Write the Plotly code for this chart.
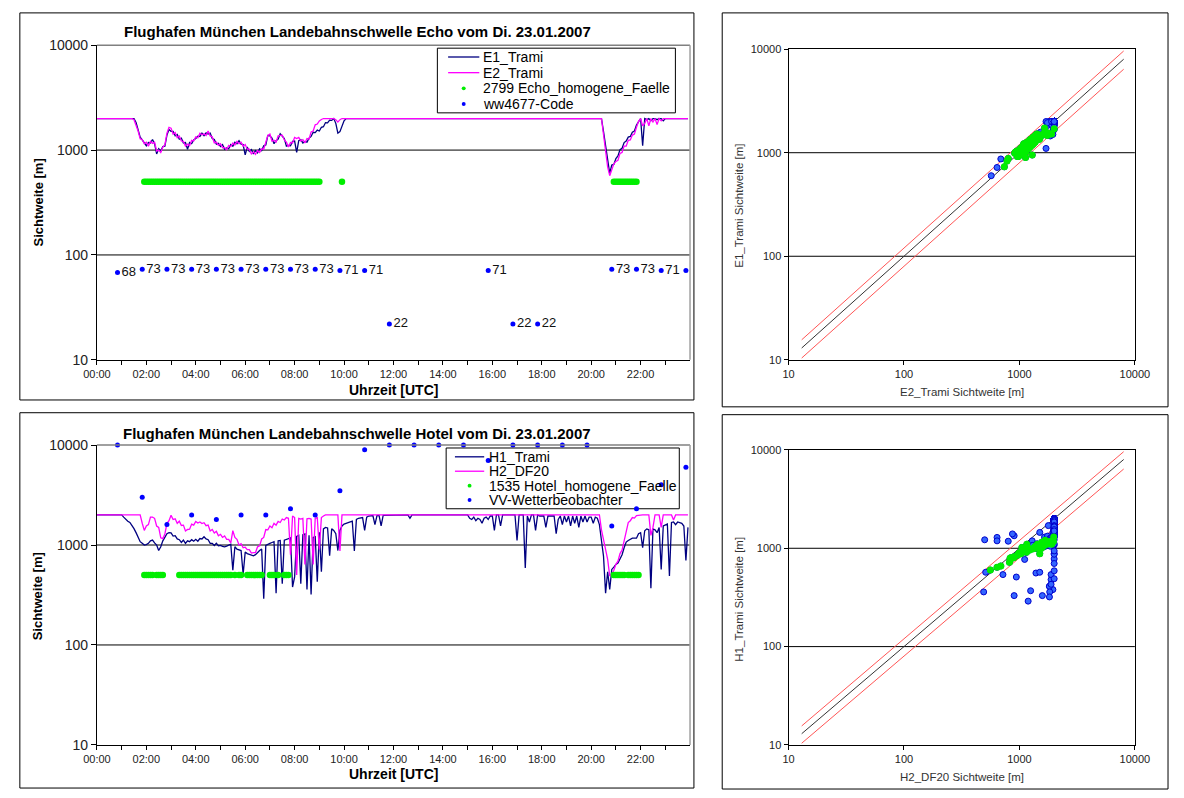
import plotly.graph_objects as go

W, H = 1184, 798
FONT = "Liberation Sans, Arial, sans-serif"

# ---------------- data ----------------
# sampling grid of the time series: one value every 5 minutes, 00:00 .. 23:55
sample_minutes = list(range(0, 1440, 5))

# Echo threshold, 12 values per line = one hour
echo_e1 = [
    2000, 2000, 2000, 2000, 2000, 2000, 2000, 2000, 2000, 2000, 2000, 2000,  # 00
    2000, 2000, 2000, 2000, 2000, 2000, 2000, 1830, 1580, 1330, 1250, 1170,  # 01
    1100, 1180, 1170, 1260, 1150, 920, 1030, 980, 1080, 1090, 1390, 1570,    # 02
    1510, 1510, 1370, 1410, 1270, 1300, 1170, 1180, 1020, 1180, 1150, 1250,  # 03
    1290, 1360, 1350, 1450, 1370, 1460, 1420, 1450, 1290, 1260, 1140, 1160,  # 04
    1080, 1130, 1020, 1050, 1030, 1130, 1090, 1190, 1150, 1230, 1140, 1130,  # 05
    900, 1070, 970, 1010, 920, 990, 940, 1030, 990, 1100, 1120, 1380,        # 06
    1370, 1300, 1150, 1230, 1270, 1430, 1340, 1290, 1090, 1110, 1100, 1210,  # 07
    1220, 950, 1230, 1260, 1170, 1210, 1190, 1300, 1350, 1480, 1470, 1550,   # 08
    1520, 1650, 1670, 1830, 1820, 1930, 1920, 2000, 1800, 1450, 1500, 1700,  # 09
    1900, 2000, 2000, 2000, 2000, 2000, 2000, 2000, 2000, 2000, 2000, 2000,  # 10
    2000, 2000, 2000, 2000, 2000, 2000, 2000, 2000, 2000, 2000, 2000, 2000,  # 11
    2000, 2000, 2000, 2000, 2000, 2000, 2000, 2000, 2000, 2000, 2000, 2000,  # 12
    2000, 2000, 2000, 2000, 2000, 2000, 2000, 2000, 2000, 2000, 2000, 2000,  # 13
    2000, 2000, 2000, 2000, 2000, 2000, 2000, 2000, 2000, 2000, 2000, 2000,  # 14
    2000, 2000, 2000, 2000, 2000, 2000, 2000, 2000, 2000, 2000, 2000, 2000,  # 15
    2000, 2000, 2000, 2000, 2000, 2000, 2000, 2000, 2000, 2000, 2000, 2000,  # 16
    2000, 2000, 2000, 2000, 2000, 2000, 2000, 2000, 2000, 2000, 2000, 2000,  # 17
    2000, 2000, 2000, 2000, 2000, 2000, 2000, 2000, 2000, 2000, 2000, 2000,  # 18
    2000, 2000, 2000, 2000, 2000, 2000, 2000, 2000, 2000, 2000, 2000, 2000,  # 19
    2000, 2000, 2000, 2000, 2000, 2000, 1500, 1080, 870, 600, 720, 730,      # 20
    830, 880, 1010, 1040, 1180, 1220, 1330, 1350, 1480, 1520, 1730, 1880,    # 21
    2000, 1100, 2000, 1950, 2000, 1900, 2000, 2000, 1950, 2000, 2000, 1900,  # 22
    2000, 2000, 2000, 2000, 2000, 2000, 2000, 2000, 2000, 2000, 2000, 2000,  # 23
]
echo_e2 = [
    2000, 2000, 2000, 2000, 2000, 2000, 2000, 2000, 2000, 2000, 2000, 2000,  # 00
    2000, 2000, 2000, 2000, 2000, 2000, 1950, 1750, 1520, 1280, 1260, 1150,  # 01
    1190, 1090, 1210, 1160, 1190, 980, 1000, 950, 1070, 1120, 1450, 1650,    # 02
    1620, 1420, 1470, 1310, 1360, 1220, 1210, 1090, 1140, 1100, 1240, 1220,  # 03
    1340, 1310, 1450, 1400, 1430, 1380, 1520, 1360, 1340, 1170, 1190, 1110,  # 04
    1150, 1050, 1060, 1010, 1110, 1080, 1170, 1120, 1210, 1150, 1190, 1090,  # 05
    1130, 1020, 1020, 920, 960, 910, 990, 950, 1030, 1020, 1220, 1380,       # 06
    1420, 1220, 1240, 1190, 1370, 1390, 1390, 1250, 1190, 1070, 1180, 1170,  # 07
    1320, 1290, 1320, 1220, 1260, 1170, 1290, 1270, 1490, 1520, 1740, 1770,  # 08
    1900, 1960, 2000, 2000, 2000, 2000, 2000, 2000, 1950, 1850, 1950, 2000,  # 09
    2000, 2000, 2000, 2000, 2000, 2000, 2000, 2000, 2000, 2000, 2000, 2000,  # 10
    2000, 2000, 2000, 2000, 2000, 2000, 2000, 2000, 2000, 2000, 2000, 2000,  # 11
    2000, 2000, 2000, 2000, 2000, 2000, 2000, 2000, 2000, 2000, 2000, 2000,  # 12
    2000, 2000, 2000, 2000, 2000, 2000, 2000, 2000, 2000, 2000, 2000, 2000,  # 13
    2000, 2000, 2000, 2000, 2000, 2000, 2000, 2000, 2000, 2000, 2000, 2000,  # 14
    2000, 2000, 2000, 2000, 2000, 2000, 2000, 2000, 2000, 2000, 2000, 2000,  # 15
    2000, 2000, 2000, 2000, 2000, 2000, 2000, 2000, 2000, 2000, 2000, 2000,  # 16
    2000, 2000, 2000, 2000, 2000, 2000, 2000, 2000, 2000, 2000, 2000, 2000,  # 17
    2000, 2000, 2000, 2000, 2000, 2000, 2000, 2000, 2000, 2000, 2000, 2000,  # 18
    2000, 2000, 2000, 2000, 2000, 2000, 2000, 2000, 2000, 2000, 2000, 2000,  # 19
    2000, 2000, 2000, 2000, 2000, 2000, 1400, 1030, 690, 570, 640, 740,      # 20
    780, 800, 930, 950, 1090, 1090, 1240, 1250, 1390, 1420, 1650, 1880,      # 21
    2000, 1700, 1800, 2000, 1700, 2000, 1850, 2000, 1750, 2000, 1900, 2000,  # 22
    2000, 2000, 2000, 2000, 2000, 2000, 2000, 2000, 2000, 2000, 2000, 2000,  # 23
]
# 1 = homogeneous case at that sample
echo_homog = [
    0, 0, 0, 0, 0, 0, 0, 0, 0, 0, 0, 0,  # 00
    0, 0, 0, 0, 0, 0, 0, 0, 0, 0, 0, 1,  # 01
    1, 1, 1, 1, 1, 1, 1, 1, 1, 1, 1, 1,  # 02
    1, 1, 1, 1, 1, 1, 1, 1, 1, 1, 1, 1,  # 03
    1, 1, 1, 1, 1, 1, 1, 1, 1, 1, 1, 1,  # 04
    1, 1, 1, 1, 1, 1, 1, 1, 1, 1, 1, 1,  # 05
    1, 1, 1, 1, 1, 1, 1, 1, 1, 1, 1, 1,  # 06
    1, 1, 1, 1, 1, 1, 1, 1, 1, 1, 1, 1,  # 07
    1, 1, 1, 1, 1, 1, 1, 1, 1, 1, 1, 1,  # 08
    1, 0, 0, 0, 0, 0, 0, 0, 0, 0, 0, 1,  # 09
    0, 0, 0, 0, 0, 0, 0, 0, 0, 0, 0, 0,  # 10
    0, 0, 0, 0, 0, 0, 0, 0, 0, 0, 0, 0,  # 11
    0, 0, 0, 0, 0, 0, 0, 0, 0, 0, 0, 0,  # 12
    0, 0, 0, 0, 0, 0, 0, 0, 0, 0, 0, 0,  # 13
    0, 0, 0, 0, 0, 0, 0, 0, 0, 0, 0, 0,  # 14
    0, 0, 0, 0, 0, 0, 0, 0, 0, 0, 0, 0,  # 15
    0, 0, 0, 0, 0, 0, 0, 0, 0, 0, 0, 0,  # 16
    0, 0, 0, 0, 0, 0, 0, 0, 0, 0, 0, 0,  # 17
    0, 0, 0, 0, 0, 0, 0, 0, 0, 0, 0, 0,  # 18
    0, 0, 0, 0, 0, 0, 0, 0, 0, 0, 0, 0,  # 19
    0, 0, 0, 0, 0, 0, 0, 0, 0, 0, 0, 1,  # 20
    1, 1, 1, 1, 1, 1, 1, 1, 1, 1, 1, 0,  # 21
    0, 0, 0, 0, 0, 0, 0, 0, 0, 0, 0, 0,  # 22
    0, 0, 0, 0, 0, 0, 0, 0, 0, 0, 0, 0,  # 23
]
# ww4677 present-weather code reports (minute of day, code)
ww_minutes = [50, 110, 170, 230, 290, 350, 410, 470, 530, 590, 650, 710,
              950, 1010, 1070, 1250, 1310, 1370, 1430]
ww_codes = [68, 73, 73, 73, 73, 73, 73, 73, 73, 71, 71, 22,
            71, 22, 22, 73, 73, 71, 71]

# Hotel threshold
hotel_h1 = [
    2000, 2000, 2000, 2000, 2000, 2000, 2000, 2000, 2000, 2000, 2000, 2000,  # 00
    2000, 1900, 1800, 1730, 1680, 1570, 1460, 1330, 1220, 1080, 1040, 1000,  # 01
    1010, 1040, 1100, 1120, 1050, 1000, 880, 960, 1100, 1190, 1300, 1330,    # 02
    1320, 1230, 1240, 1150, 1130, 1060, 1120, 1040, 1100, 1080, 1130, 1090,  # 03
    1140, 1090, 1160, 1150, 1210, 1150, 1130, 1040, 1040, 990, 1040, 980,    # 04
    990, 970, 960, 975, 1000, 1020, 560, 960, 910, 900, 880, 510,            # 05
    850, 820, 810, 790, 780, 800, 850, 880, 910, 290, 990, 1020,             # 06
    1040, 1060, 1080, 330, 1100, 1110, 410, 1120, 1140, 1170, 1180, 380,     # 07
    480, 1220, 1250, 410, 1270, 1290, 360, 1250, 320, 1190, 1210, 430,       # 08
    1340, 540, 1450, 1500, 1480, 780, 1450, 1400, 1300, 880, 1400, 1550,     # 09
    1620, 1650, 1680, 1700, 1730, 870, 1800, 1850, 1880, 1880, 1400, 1900,   # 10
    1950, 1950, 1970, 1600, 1970, 1980, 1550, 1980, 1980, 1980, 1980, 1980,  # 11
    2000, 2000, 2000, 2000, 2000, 2000, 2000, 2000, 1850, 2000, 2000, 2000,  # 12
    2000, 2000, 2000, 2000, 2000, 2000, 2000, 2000, 2000, 2000, 2000, 2000,  # 13
    2000, 2000, 2000, 2000, 2000, 2000, 2000, 2000, 2000, 2000, 2000, 2000,  # 14
    2000, 1850, 1800, 1900, 1750, 1850, 1800, 1650, 1850, 1900, 1800, 1950,  # 15
    1950, 1400, 2000, 2000, 1550, 2000, 2000, 2000, 2000, 2000, 2000, 2000,  # 16
    1110, 2000, 2000, 2000, 590, 1950, 1700, 2000, 2000, 1400, 2000, 1950,   # 17
    1950, 1950, 1500, 1950, 1950, 1950, 1950, 1300, 1800, 1950, 1600, 1950,  # 18
    1700, 1950, 1550, 1950, 1650, 1950, 1500, 1950, 1700, 1950, 1700, 1900,  # 19
    1900, 1650, 1900, 1850, 1600, 1110, 770, 330, 540, 360, 570, 600,        # 20
    640, 660, 720, 800, 940, 1070, 1110, 1140, 1170, 1170, 1170, 1300,       # 21
    1330, 940, 1390, 1450, 1420, 370, 1450, 1420, 1330, 1500, 570, 1550,     # 22
    1600, 1620, 490, 1680, 1700, 1600, 1700, 1680, 1650, 1550, 700, 1500,    # 23
]
hotel_h2 = [
    2000, 2000, 2000, 2000, 2000, 2000, 2000, 2000, 2000, 2000, 2000, 2000,  # 00
    2000, 2000, 2000, 2000, 2000, 2000, 2000, 2000, 2000, 2000, 1650, 1400,  # 01
    1550, 1600, 1900, 1900, 1850, 1550, 1500, 1180, 1160, 1290, 1650, 1750,  # 02
    1980, 1800, 1830, 1650, 1730, 1570, 1580, 1380, 1430, 1440, 1620, 1580,  # 03
    1720, 1660, 1700, 1640, 1670, 1560, 1580, 1380, 1430, 1320, 1370, 1240,  # 04
    1280, 1190, 1230, 1140, 1140, 1050, 1390, 1190, 1140, 1000, 1030, 940,   # 05
    950, 900, 900, 830, 840, 840, 960, 980, 1150, 1190, 1430, 1420,          # 06
    1550, 1490, 1650, 1580, 1720, 1680, 1820, 1780, 1880, 1850, 800, 1950,   # 07
    1880, 500, 1850, 1820, 1850, 640, 1830, 1850, 1820, 640, 1850, 1880,     # 08
    900, 1880, 1950, 2000, 2000, 2000, 2000, 2000, 2000, 2000, 870, 2000,    # 09
    2000, 2000, 2000, 2000, 2000, 2000, 2000, 2000, 2000, 2000, 2000, 2000,  # 10
    2000, 2000, 2000, 2000, 2000, 2000, 2000, 2000, 2000, 2000, 2000, 2000,  # 11
    2000, 2000, 2000, 2000, 2000, 2000, 2000, 2000, 2000, 2000, 2000, 2000,  # 12
    2000, 2000, 2000, 2000, 2000, 2000, 2000, 2000, 2000, 2000, 2000, 2000,  # 13
    2000, 2000, 2000, 2000, 2000, 2000, 2000, 2000, 2000, 2000, 2000, 2000,  # 14
    2000, 2000, 2000, 2000, 2000, 2000, 2000, 2000, 2000, 2000, 2000, 2000,  # 15
    2000, 2000, 2000, 2000, 2000, 2000, 2000, 2000, 2000, 2000, 2000, 2000,  # 16
    2000, 2000, 2000, 2000, 2000, 2000, 2000, 2000, 2000, 2000, 2000, 2000,  # 17
    2000, 2000, 2000, 2000, 2000, 2000, 2000, 2000, 2000, 2000, 2000, 2000,  # 18
    2000, 2000, 2000, 2000, 2000, 2000, 2000, 2000, 2000, 2000, 2000, 2000,  # 19
    2000, 2000, 2000, 2000, 2000, 1420, 1110, 900, 720, 490, 510, 560,       # 20
    640, 690, 820, 890, 1100, 1300, 1680, 1750, 1880, 1860, 1970, 1980,      # 21
    2000, 2000, 2000, 2000, 2000, 1250, 1500, 2000, 2000, 2000, 1500, 2000,  # 22
    2000, 2000, 2000, 2000, 1780, 2000, 2000, 2000, 2000, 2000, 2000, 2000,  # 23
]
hotel_homog = [
    0, 0, 0, 0, 0, 0, 0, 0, 0, 0, 0, 0,  # 00
    0, 0, 0, 0, 0, 0, 0, 0, 0, 0, 0, 1,  # 01
    1, 1, 1, 1, 0, 1, 1, 1, 1, 0, 0, 0,  # 02
    0, 0, 0, 0, 1, 1, 1, 1, 1, 1, 1, 1,  # 03
    1, 1, 1, 1, 1, 1, 1, 1, 1, 1, 1, 1,  # 04
    1, 1, 1, 1, 1, 1, 0, 1, 0, 1, 1, 0,  # 05
    0, 1, 1, 1, 1, 1, 1, 1, 1, 0, 0, 0,  # 06
    1, 1, 1, 0, 1, 0, 0, 1, 1, 1, 0, 0,  # 07
    0, 0, 0, 0, 0, 0, 0, 0, 0, 0, 0, 0,  # 08
    0, 0, 0, 0, 0, 0, 0, 0, 0, 0, 0, 0,  # 09
    0, 0, 0, 0, 0, 0, 0, 0, 0, 0, 0, 0,  # 10
    0, 0, 0, 0, 0, 0, 0, 0, 0, 0, 0, 0,  # 11
    0, 0, 0, 0, 0, 0, 0, 0, 0, 0, 0, 0,  # 12
    0, 0, 0, 0, 0, 0, 0, 0, 0, 0, 0, 0,  # 13
    0, 0, 0, 0, 0, 0, 0, 0, 0, 0, 0, 0,  # 14
    0, 0, 0, 0, 0, 0, 0, 0, 0, 0, 0, 0,  # 15
    0, 0, 0, 0, 0, 0, 0, 0, 0, 0, 0, 0,  # 16
    0, 0, 0, 0, 0, 0, 0, 0, 0, 0, 0, 0,  # 17
    0, 0, 0, 0, 0, 0, 0, 0, 0, 0, 0, 0,  # 18
    0, 0, 0, 0, 0, 0, 0, 0, 0, 0, 0, 0,  # 19
    0, 0, 0, 0, 0, 0, 0, 0, 0, 0, 0, 1,  # 20
    1, 1, 1, 1, 1, 0, 1, 1, 1, 1, 1, 1,  # 21
    0, 0, 0, 0, 0, 0, 0, 0, 0, 0, 0, 0,  # 22
    0, 0, 0, 0, 0, 0, 0, 0, 0, 0, 0, 0,  # 23
]
# visibility reported by the weather observer (minute of day, metres)
vv_minutes = [50, 110, 170, 230, 290, 350, 410, 470, 530, 590, 650, 710,
              770, 830, 890, 950, 1010, 1070, 1130, 1190, 1250, 1310, 1370, 1430]
vv_values = [10000, 3000, 1600, 2000, 1800, 2000, 2000, 2300, 2000, 3500, 9000, 10000,
             10000, 10000, 10000, 7000, 10000, 10000, 10000, 10000, 1550, 2300, 4000, 6000]

# scatter reference lines: 1:1 and +-20 %
ref_x = [13, 8000]
ref_factors = [1.2, 1.0, 0.8]
ref_colors = ["#ff5555", "#333333", "#ff5555"]

time_tick_minutes = [0, 60, 120, 180, 240, 300, 360, 420, 480, 540, 600, 660,
                     720, 780, 840, 900, 960, 1020, 1080, 1140, 1200, 1260, 1320, 1380]
time_tick_labels = ["00:00", "", "02:00", "", "04:00", "", "06:00", "", "08:00", "",
                    "10:00", "", "12:00", "", "14:00", "", "16:00", "", "18:00", "",
                    "20:00", "", "22:00", ""]
log_ticks = [10, 100, 1000, 10000]
log_tick_labels = ["10", "100", "1000", "10000"]

homog_level = 500  # vertical position of the homogeneous-case markers

# ---------------- helpers ----------------
def pxx(p):
    return p / W


def pxy(p):
    return 1 - p / H


NAVY = "#000080"
MAGENTA = "#ff00ff"
GREEN = "#00ee00"
BLUE = "#0000ff"

fig = go.Figure()

# ---------- panel 1: Echo time series ----------
fig.add_trace(go.Scatter(x=sample_minutes, y=echo_e1, mode="lines", name="E1_Trami",
                         line=dict(color=NAVY, width=1.3), xaxis="x", yaxis="y"))
fig.add_trace(go.Scatter(x=sample_minutes, y=echo_e2, mode="lines", name="E2_Trami",
                         line=dict(color=MAGENTA, width=1.3), xaxis="x", yaxis="y"))
eh_t = [t for t, f in zip(sample_minutes, echo_homog) if f]
fig.add_trace(go.Scatter(x=eh_t, y=[homog_level] * len(eh_t), mode="markers",
                         name="2799 Echo_homogene_Faelle",
                         marker=dict(color=GREEN, size=6.5), xaxis="x", yaxis="y"))
fig.add_trace(go.Scatter(x=ww_minutes, y=ww_codes, mode="markers+text", name="ww4677-Code",
                         text=[str(c) for c in ww_codes], textposition="middle right",
                         textfont=dict(family=FONT, size=13, color="#111"),
                         marker=dict(color=BLUE, size=5), xaxis="x", yaxis="y"))

# ---------- panel 3: Hotel time series ----------
fig.add_trace(go.Scatter(x=sample_minutes, y=hotel_h1, mode="lines", name="H1_Trami",
                         line=dict(color=NAVY, width=1.3), xaxis="x3", yaxis="y3"))
fig.add_trace(go.Scatter(x=sample_minutes, y=hotel_h2, mode="lines", name="H2_DF20",
                         line=dict(color=MAGENTA, width=1.3), xaxis="x3", yaxis="y3"))
hh_t = [t for t, f in zip(sample_minutes, hotel_homog) if f]
fig.add_trace(go.Scatter(x=hh_t, y=[homog_level] * len(hh_t), mode="markers",
                         name="1535 Hotel_homogene_Faelle",
                         marker=dict(color=GREEN, size=6.5), xaxis="x3", yaxis="y3"))
fig.add_trace(go.Scatter(x=vv_minutes, y=vv_values, mode="markers", name="VV-Wetterbeobachter",
                         marker=dict(color=BLUE, size=5), cliponaxis=False,
                         xaxis="x3", yaxis="y3"))

# ---------- scatter panels ----------
def add_scatter(xs, ys, flags, xa, ya):
    for fct, col in zip(ref_factors, ref_colors):
        fig.add_trace(go.Scatter(x=ref_x, y=[v * fct for v in ref_x], mode="lines",
                                 line=dict(color=col, width=1), xaxis=xa, yaxis=ya,
                                 hoverinfo="skip"))
    fig.add_trace(go.Scatter(x=xs, y=ys, mode="markers",
                             marker=dict(color="#3366ff", size=6, line=dict(color="#0000cc", width=1)),
                             xaxis=xa, yaxis=ya))
    gx = [a for a, f in zip(xs, flags) if f]
    gy = [b for b, f in zip(ys, flags) if f]
    fig.add_trace(go.Scatter(x=gx, y=gy, mode="markers",
                             marker=dict(color=GREEN, size=7), xaxis=xa, yaxis=ya))


add_scatter(echo_e2, echo_e1, echo_homog, "x2", "y2")
add_scatter(hotel_h2, hotel_h1, hotel_homog, "x4", "y4")

# ---------- axes ----------
ts_x = [pxx(85), pxx(693)]
sc_x = [pxx(794), pxx(1149)]


def time_xaxis(anchor):
    return dict(domain=ts_x, anchor=anchor, range=[0, 1440], tickmode="array",
                tickvals=time_tick_minutes, ticktext=time_tick_labels,
                ticks="outside", ticklen=4, tickcolor="black", showline=True,
                linecolor="black", linewidth=1, showgrid=False, zeroline=False,
                tickfont=dict(family=FONT, size=11, color="#222"))


def time_yaxis(dom, anchor):
    return dict(domain=dom, anchor=anchor, type="log", range=[1, 4], tickmode="array",
                tickvals=log_ticks, ticktext=log_tick_labels, ticks="outside", ticklen=5,
                tickcolor="black", showline=True, linecolor="black", linewidth=1,
                showgrid=False, zeroline=False,
                tickfont=dict(family=FONT, size=14, color="#222"))


def sc_axis(dom, anchor):
    return dict(domain=dom, anchor=anchor, type="log", range=[1, 4], tickmode="array",
                tickvals=log_ticks, ticktext=log_tick_labels, ticks="outside", ticklen=4,
                tickcolor="black", showline=True, mirror=True, linecolor="black",
                linewidth=1, showgrid=False, zeroline=False,
                tickfont=dict(family=FONT, size=11, color="#222"))


fig.update_layout(
    width=W, height=H, autosize=False, margin=dict(l=0, r=0, t=0, b=0, pad=0),
    paper_bgcolor="white", plot_bgcolor="white",
    font=dict(family=FONT, color="black"),
    showlegend=False,
    xaxis=time_xaxis("y"),
    yaxis=time_yaxis([pxy(359), pxy(38)], "x"),
    xaxis3=time_xaxis("y3"),
    yaxis3=time_yaxis([pxy(752), pxy(446)], "x3"),
    xaxis2=sc_axis(sc_x, "y2"),
    yaxis2=sc_axis([pxy(359), pxy(42)], "x2"),
    xaxis4=sc_axis(sc_x, "y4"),
    yaxis4=sc_axis([pxy(752), pxy(451)], "x4"),
)

shapes = []
ann = []


def txt(x, y, s, size, bold=False, angle=0, color="black", xanchor="center"):
    ann.append(dict(x=pxx(x), y=pxy(y), xref="paper", yref="paper", showarrow=False,
                    text=("<b>%s</b>" % s) if bold else s, textangle=angle,
                    font=dict(family=FONT, size=size, color=color),
                    xanchor=xanchor, yanchor="middle"))


# outer panel frames
for x0, y0, x1, y1 in [(6, 5, 697, 400), (6, 413, 697, 796), (726, 5, 1183, 407), (726, 415, 1183, 797)]:
    shapes.append(dict(type="rect", xref="paper", yref="paper", x0=pxx(x0), x1=pxx(x1),
                       y0=pxy(y0), y1=pxy(y1), line=dict(color="black", width=1)))
# horizontal gridlines at 100 and 1000
for xa, ya in [("x", "y"), ("x3", "y3"), ("x2", "y2"), ("x4", "y4")]:
    for gv in [100, 1000]:
        shapes.append(dict(type="line", xref=xa + " domain", yref=ya, x0=0, x1=1, y0=gv, y1=gv,
                           line=dict(color="black", width=1), layer="below"))
# grey plot-area border (top/right) of the time-series panels
for xa, ya in [("x", "y"), ("x3", "y3")]:
    shapes.append(dict(type="line", xref=xa + " domain", yref=ya + " domain", x0=0, x1=1, y0=1, y1=1,
                       line=dict(color="#808080", width=1.5)))
    shapes.append(dict(type="line", xref=xa + " domain", yref=ya + " domain", x0=1, x1=1, y0=0, y1=1,
                       line=dict(color="#a0a0a0", width=1.5)))

# legends (box, symbol, label) built from the trace styles
legend_specs = [
    ((434, 41, 678, 107), 445, 477, 479, 50, 16,
     [("line", NAVY, "E1_Trami"), ("line", MAGENTA, "E2_Trami"),
      ("dot", GREEN, "2799 Echo_homogene_Faelle"), ("dot", BLUE, "ww4677-Code")]),
    ((443, 449, 682, 511), 452, 482, 485, 458, 14.7,
     [("line", NAVY, "H1_Trami"), ("line", MAGENTA, "H2_DF20"),
      ("dot", GREEN, "1535 Hotel_homogene_Faelle"), ("dot", BLUE, "VV-Wetterbeobachter")]),
]
for (bx0, by0, bx1, by1), sx0, sx1, tx, ry, step, items in legend_specs:
    shapes.append(dict(type="rect", xref="paper", yref="paper", x0=pxx(bx0), x1=pxx(bx1),
                       y0=pxy(by0), y1=pxy(by1), line=dict(color="black", width=1),
                       fillcolor="white", layer="below"))
    for i, (kind, col, label) in enumerate(items):
        yy = ry + i * step
        if kind == "line":
            shapes.append(dict(type="line", xref="paper", yref="paper", x0=pxx(sx0), x1=pxx(sx1),
                               y0=pxy(yy), y1=pxy(yy), line=dict(color=col, width=1.3)))
        else:
            cx = (sx0 + sx1) / 2
            shapes.append(dict(type="circle", xref="paper", yref="paper",
                               x0=pxx(cx - 2), x1=pxx(cx + 2), y0=pxy(yy + 2), y1=pxy(yy - 2),
                               fillcolor=col, line=dict(color=col, width=0)))
        txt(tx, yy, label, 14, xanchor="left")

fig.update_layout(shapes=shapes)

txt(352, 24, "Flughafen München Landebahnschwelle Echo vom Di. 23.01.2007", 15, True)
txt(352, 434, "Flughafen München Landebahnschwelle Hotel vom Di. 23.01.2007", 15, True)
txt(25, 198, "Sichtweite [m]", 13, True, -90)
txt(25, 600, "Sichtweite [m]", 13, True, -90)
txt(389, 390, "Uhrzeit [UTC]", 14, True)
txt(389, 782, "Uhrzeit [UTC]", 14, True)
txt(972, 392, "E2_Trami Sichtweite [m]", 11.5, color="#333")
txt(743, 202, "E1_Trami Sichtweite [m]", 11.5, angle=-90, color="#333")
txt(972, 785, "H2_DF20 Sichtweite [m]", 11.5, color="#333")
txt(743, 603, "H1_Trami Sichtweite [m]", 11.5, angle=-90, color="#333")
fig.update_layout(annotations=ann)

fig.write_html(
    "out.html",
    config={"displayModeBar": False},
    post_script="document.body.style.margin='0';document.body.style.padding='0';"
                "document.documentElement.style.overflow='hidden';document.body.style.overflow='hidden';",
)
